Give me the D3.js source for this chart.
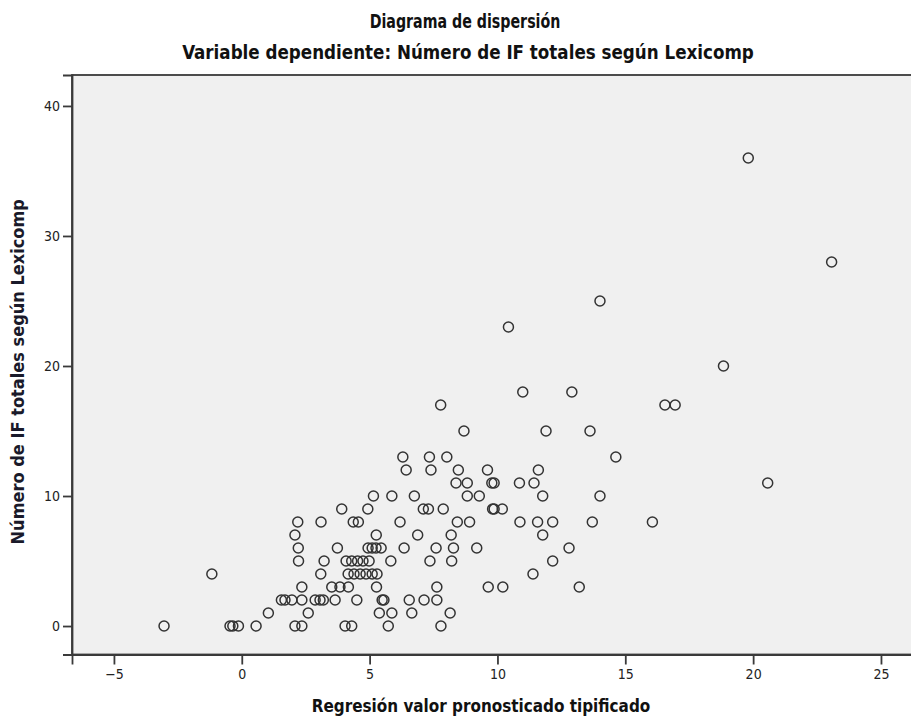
<!DOCTYPE html>
<html>
<head>
<meta charset="utf-8">
<script src="https://cdn.jsdelivr.net/npm/d3@7"></script>
<style>
  html, body { margin: 0; padding: 0; background: #ffffff; }
  svg { display: block; }
  text { font-family: "DejaVu Sans", sans-serif; font-stretch: condensed; }
</style>
</head>
<body>
<svg id="chart" width="911" height="716"></svg>
<script>
// ---- Data (predicted standardized value, number of IF) ----
const predicted = [
  -3.04, -0.46, -0.35, -0.13, 0.56, 2.08, 2.35, 4.04, 4.30, 5.73, 7.79,
  1.04, 2.60, 5.38, 5.87, 6.65, 8.15,
  1.55, 1.69, 1.96, 2.35, 2.87, 3.06, 3.19, 3.65, 4.50, 5.49, 5.56, 6.55, 7.13, 7.63,
  2.35, 3.52, 3.84, 4.17, 5.27, 7.63, 9.64, 10.21, 13.20,
  -1.17, 3.09, 4.16, 4.39, 4.63, 4.86, 5.10, 5.29, 11.39,
  2.22, 3.22, 4.08, 4.30, 4.53, 4.74, 4.98, 5.83, 7.36, 8.21, 12.16,
  2.21, 3.74, 4.94, 5.10, 5.25, 5.45, 6.35, 7.60, 8.28, 9.19, 12.80,
  2.08, 5.26, 6.88, 8.19, 11.77,
  2.19, 3.10, 4.36, 4.56, 6.19, 8.43, 8.91, 10.88, 11.57, 12.16, 13.71, 16.06,
  3.91, 4.93, 7.10, 7.30, 7.88, 9.81, 9.87, 10.19,
  5.15, 5.87, 6.75, 8.82, 9.29, 11.77, 14.01,
  8.38, 8.82, 9.78, 9.87, 10.86, 11.43, 20.57,
  6.43, 7.40, 8.47, 9.61, 11.60,
  6.30, 7.34, 8.02, 14.63,
  8.69, 11.90, 13.62,
  7.78, 16.55, 16.95,
  10.99, 12.91,
  18.84,
  10.43,
  14.01,
  23.07,
  19.81
];
const observed = [
  0,0,0,0,0,0,0,0,0,0,0,
  1,1,1,1,1,1,
  2,2,2,2,2,2,2,2,2,2,2,2,2,2,
  3,3,3,3,3,3,3,3,3,
  4,4,4,4,4,4,4,4,4,
  5,5,5,5,5,5,5,5,5,5,5,
  6,6,6,6,6,6,6,6,6,6,6,
  7,7,7,7,7,
  8,8,8,8,8,8,8,8,8,8,8,8,
  9,9,9,9,9,9,9,9,
  10,10,10,10,10,10,10,
  11,11,11,11,11,11,11,
  12,12,12,12,12,
  13,13,13,13,
  15,15,15,
  17,17,17,
  18,18,
  20,
  23,
  25,
  28,
  36
];
const xTicks = [-5, 0, 5, 10, 15, 20, 25];
const yTicks = [0, 10, 20, 30, 40];
const xDomain = [-6.64, 26.37];
const yDomain = [-2.19, 42.38];
const titleLines = ["Diagrama de dispersión", "Variable dependiente: Número de IF totales según Lexicomp"];
const xTitle = "Regresión valor pronosticado tipificado";
const yTitle = "Número de IF totales según Lexicomp";

// ---- Layout ----
const plot = { left: 72, right: 916, top: 75, bottom: 654.5 };
const svg = d3.select("#chart");

const x = d3.scaleLinear().domain(xDomain).range([plot.left, plot.right]);
const y = d3.scaleLinear().domain(yDomain).range([plot.bottom, plot.top]);

// plot background
svg.append("rect")
  .attr("x", plot.left).attr("y", plot.top)
  .attr("width", plot.right - plot.left).attr("height", plot.bottom - plot.top)
  .attr("fill", "#f0f0f0")
  .attr("stroke", "#3a3a3a").attr("stroke-width", 1.8);

// points
const pts = predicted.map((d, i) => ({ px: d, py: observed[i] }));
svg.append("g").selectAll("circle").data(pts).join("circle")
  .attr("cx", d => x(d.px))
  .attr("cy", d => y(d.py))
  .attr("r", 5)
  .attr("fill", "none")
  .attr("stroke", "#333")
  .attr("stroke-width", 1.5);

// axes
const xAxis = d3.axisBottom(x).tickValues(xTicks).tickSize(10).tickPadding(5).tickFormat(d3.format("d"));
const yAxis = d3.axisLeft(y).tickValues(yTicks).tickSize(9).tickPadding(3).tickFormat(d3.format("d"));

const gx = svg.append("g").attr("transform", `translate(0,${plot.bottom})`).call(xAxis);
const gy = svg.append("g").attr("transform", `translate(${plot.left},0)`).call(yAxis);
[gx, gy].forEach(g => {
  g.attr("font-family", null).attr("font-size", null);
  g.select(".domain").attr("stroke", "#3a3a3a").attr("stroke-width", 1.8);
  g.selectAll(".tick line").attr("stroke", "#3a3a3a").attr("stroke-width", 1.8);
  g.selectAll(".tick text").attr("fill", "#222").style("font-size", "14px");
});

// helper: condensed text fitted to a width ratio of its natural length
function squeeze(sel, ratio) {
  const n = sel.node();
  const len = n.getComputedTextLength();
  sel.attr("textLength", len * ratio).attr("lengthAdjust", "spacingAndGlyphs");
  return sel;
}

// titles
squeeze(svg.append("text").attr("x", 465).attr("y", 28).attr("text-anchor", "middle")
  .style("font-size", "20px").style("font-weight", "bold").attr("fill", "#111")
  .text(titleLines[0]), 0.79);
squeeze(svg.append("text").attr("x", 468).attr("y", 59).attr("text-anchor", "middle")
  .style("font-size", "20px").style("font-weight", "bold").attr("fill", "#111")
  .text(titleLines[1]), 0.93);

squeeze(svg.append("text").attr("x", 481).attr("y", 712).attr("text-anchor", "middle")
  .style("font-size", "18px").style("font-weight", "bold").attr("fill", "#111")
  .text(xTitle), 0.94);

svg.append("text")
  .attr("transform", `translate(24,${(plot.top + plot.bottom) / 2 + 7}) rotate(-90)`)
  .attr("text-anchor", "middle")
  .style("font-size", "18px").style("font-weight", "bold").attr("fill", "#1a1a2a")
  .text(yTitle);
</script>
</body>
</html>
